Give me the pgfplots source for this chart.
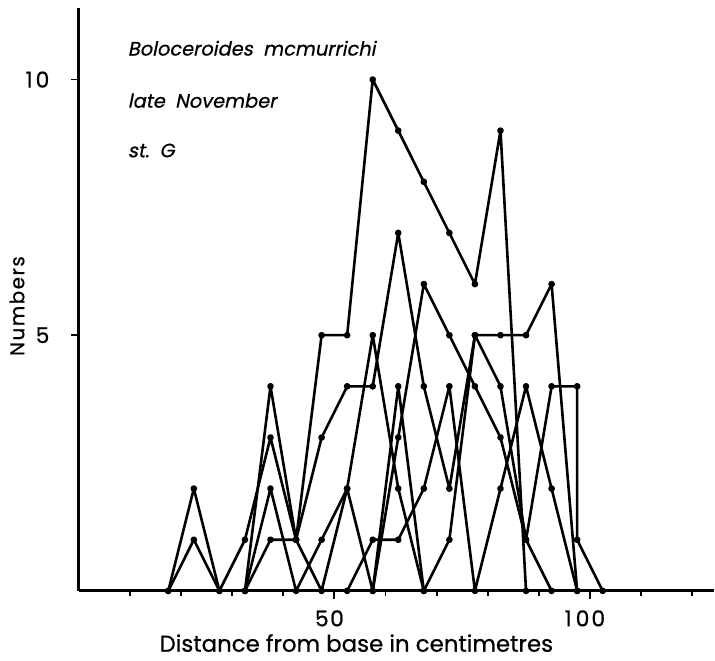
\documentclass[border=0pt]{standalone}
\usepackage{fontspec}
\setmainfont{Poppins}[AutoFakeSlant=0.2, FakeBold=0.6]
\usepackage{pgfplots}
\pgfplotsset{compat=1.18}
\tikzset{ser/.style={black, solid, line width=2.6bp, line join=round, mark=*, mark size=2bp, mark options={solid, fill=black}}}
\begin{document}
\begin{tikzpicture}
\begin{axis}[
  scale only axis, width=636bp, height=584bp,
  xmin=0, xmax=124.2, ymin=0, ymax=11.4,
  axis x line*=bottom, axis y line*=left,
  axis line style={line width=2.8bp},
  xtick={50,100}, minor xtick={10,20,30,40,60,70,80,90,110,120},
  xticklabels={{5\hspace{1.5bp}0},{1\hspace{4bp}0\hspace{2bp}0}},
  ytick={5,10},
  yticklabels={{5},{1\hspace{3bp}0}},
  tick align=outside,
  major tick length=8bp, minor tick length=5bp,
  every tick/.style={line width=1.8bp, black},
  every minor tick/.style={line width=1.8bp, black},
  xticklabel style={font=\fontsize{22}{26}\selectfont, yshift=-8bp, xshift=-5bp},
  yticklabel style={font=\fontsize{22}{26}\selectfont, xshift=-18bp},
  clip=false,
]
\addplot[ser] coordinates {(17.5,0) (22.5,2) (27.5,0)};
\addplot[ser] coordinates {(17.5,0) (22.5,1) (27.5,0) (32.5,1) (37.5,3) (42.5,1) (47.5,3) (52.5,4) (57.5,4) (62.5,7) (67.5,4) (72.5,2) (77.5,5) (82.5,4) (87.5,1) (92.5,4) (97.5,4) (97.5,1) (102.5,0)};
\addplot[ser] coordinates {(32.5,0) (37.5,4) (42.5,1) (47.5,5) (52.5,5) (57.5,10) (62.5,9) (67.5,8) (72.5,7) (77.5,6) (82.5,9) (87.5,0)};
\addplot[ser] coordinates {(32.5,0) (37.5,2) (42.5,0) (47.5,1) (52.5,2) (57.5,5) (62.5,2) (67.5,0) (72.5,1) (77.5,5) (82.5,5) (87.5,5) (92.5,6) (97.5,0)};
\addplot[ser] coordinates {(32.5,0) (37.5,1) (42.5,1) (47.5,0) (52.5,2) (57.5,0) (62.5,4) (67.5,0)};
\addplot[ser] coordinates {(52.5,0) (57.5,1) (62.5,1) (67.5,2) (72.5,4) (77.5,0) (82.5,2) (87.5,4) (92.5,2) (97.5,0)};
\addplot[ser] coordinates {(57.5,0) (62.5,3) (67.5,6) (72.5,5) (77.5,4) (82.5,3) (87.5,1) (92.5,0)};
\node[anchor=base west, font=\itshape\fontsize{19.5}{23}\selectfont] at (axis cs:8.9,10.47) {Boloceroides\ \ mcmurrichi};
\node[anchor=base west, font=\itshape\fontsize{19.5}{23}\selectfont] at (axis cs:8.9,9.45) {late\ \ November};
\node[anchor=base west, font=\itshape\fontsize{19.5}{23}\selectfont] at (axis cs:8.9,8.48) {st.\ \ G};
\node[rotate=90, font=\fontsize{20}{24}\selectfont] at ([xshift=-62bp]axis cs:0,5.57) {N\hspace{1.5bp}u\hspace{1.5bp}m\hspace{1.5bp}b\hspace{1.5bp}e\hspace{1.5bp}r\hspace{1.5bp}s};
\node[anchor=base, font=\fontsize{23}{27}\selectfont] at ([yshift=-61bp]axis cs:54.3,0) {Distance from base in centimetres};
\end{axis}
\path (-79bp,-70bp) rectangle (636bp,592bp);
\end{tikzpicture}
\end{document}
